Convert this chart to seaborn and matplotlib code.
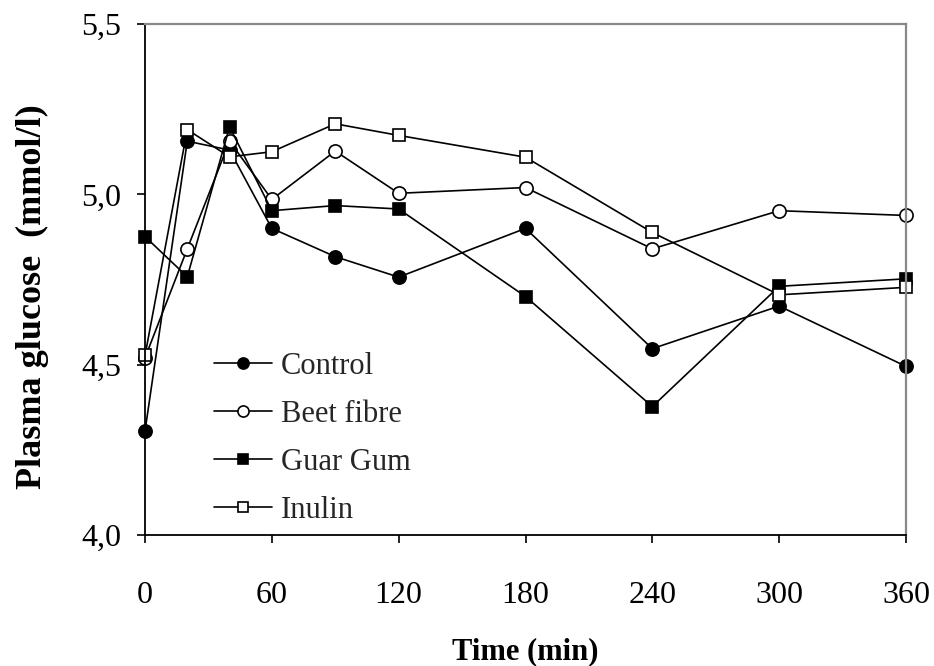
import matplotlib
matplotlib.use("Agg")
import matplotlib.pyplot as plt
import seaborn as sns
import pandas as pd
from matplotlib.lines import Line2D

# ---- data ----
time_min = [0, 20, 40, 60, 90, 120, 180, 240, 300, 360]
control = [4.305, 5.156, 5.13, 4.90, 4.817, 4.757, 4.90, 4.547, 4.672, 4.495]
beet_fibre = [4.52, 4.84, 5.156, 4.985, 5.127, 5.003, 5.020, 4.84, 4.952, 4.938]
guar_gum = [4.876, 4.758, 5.198, 4.952, 4.967, 4.957, 4.70, 4.377, 4.73, 4.752]
inulin = [4.527, 5.19, 5.11, 5.125, 5.207, 5.173, 5.109, 4.888, 4.705, 4.727]
series_names = ["Control", "Beet fibre", "Guar Gum", "Inulin"]
xticks = [0, 60, 120, 180, 240, 300, 360]
yticks = [4.0, 4.5, 5.0, 5.5]
ytick_labels = ["4,0", "4,5", "5,0", "5,5"]

df = pd.DataFrame({
    "time": time_min * 4,
    "glucose": control + beet_fibre + guar_gum + inulin,
    "group": sum([[n] * len(time_min) for n in series_names], []),
})

sns.set_theme(style="white")
plt.rcParams["font.family"] = ["Liberation Serif", "DejaVu Serif"]

fig = plt.figure(figsize=(9.34, 6.66), dpi=100)
ax = fig.add_axes([145 / 934, 1 - 535 / 666, (906 - 145) / 934, (535 - 24) / 666])

styles = {
    "Control": dict(marker="o", mfc="black"),
    "Beet fibre": dict(marker="o", mfc="white"),
    "Guar Gum": dict(marker="s", mfc="black"),
    "Inulin": dict(marker="s", mfc="white"),
}

handles = []
for name in series_names:
    sub = df[df["group"] == name]
    st = styles[name]
    ms = 9.5 if st["marker"] == "o" else 9
    sns.lineplot(data=sub, x="time", y="glucose", ax=ax, color="black",
                 linewidth=1.2, marker=st["marker"], markersize=ms,
                 markerfacecolor=st["mfc"], markeredgecolor="black",
                 markeredgewidth=1.2, clip_on=False, legend=False,
                 estimator=None, sort=False)
    handles.append(Line2D([], [], color="black", linewidth=1.2,
                          marker=st["marker"], markersize=ms - 1.5,
                          markerfacecolor=st["mfc"], markeredgecolor="black",
                          markeredgewidth=1.2))

ax.set_xlim(0, 360)
ax.set_ylim(4.0, 5.5)
ax.set_xticks(xticks)
ax.set_xticklabels([str(t) for t in xticks])
ax.set_yticks(yticks)
ax.set_yticklabels(ytick_labels)

for s in ["left", "bottom"]:
    ax.spines[s].set_color("black")
    ax.spines[s].set_linewidth(1.3)
for s in ["top", "right"]:
    ax.spines[s].set_color("#888888")
    ax.spines[s].set_linewidth(1.6)

ax.tick_params(axis="both", which="major", direction="out", length=6,
               width=1.2, color="black", labelsize=23, labelcolor="black")
ax.tick_params(axis="x", pad=27, bottom=True)
ax.tick_params(axis="y", pad=11, left=True)

ax.set_xlabel("Time (min)", fontsize=22, fontweight="bold", color="black")
ax.set_ylabel("Plasma glucose  (mmol/l)", fontsize=26, fontweight="bold", color="black")
ax.xaxis.set_label_coords(0.5, -0.2)
ax.yaxis.set_label_coords(-0.126, 0.466)

leg = ax.legend(handles, series_names, loc="upper left",
                bbox_to_anchor=((214 - 145) / 761, (535 - 352) / 511),
                frameon=False, fontsize=22, handlelength=1.9,
                handletextpad=0.3, labelspacing=0.62, borderpad=0,
                borderaxespad=0)

fig.savefig("out.png", dpi=100, facecolor="white")
